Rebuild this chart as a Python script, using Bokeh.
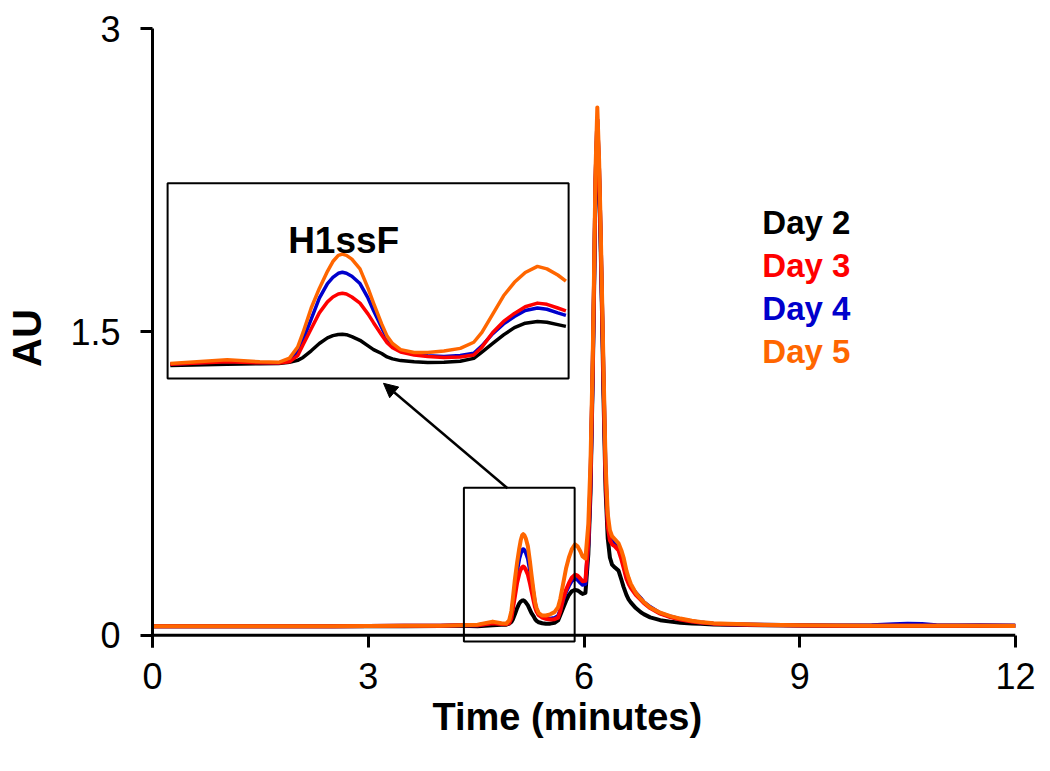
import numpy as np
from bokeh.plotting import figure
from bokeh.models import FixedTicker, Arrow, NormalHead, Range1d, Span, Title
from bokeh.embed import file_html
from bokeh.resources import INLINE
from bokeh.core.properties import value

# ---------------- data ----------------
time_min = [0.0, 0.5, 1.0, 1.5, 2.0, 2.5, 3.0, 3.5, 4.0, 4.3,
            4.52, 4.73, 4.85, 4.92, 4.96, 4.99, 5.01, 5.04, 5.07, 5.10,
            5.12, 5.14, 5.155, 5.17, 5.19, 5.22, 5.25, 5.27, 5.30, 5.32,
            5.34, 5.37, 5.42, 5.47, 5.53, 5.59, 5.64, 5.67, 5.71, 5.75,
            5.79, 5.83, 5.875, 5.91, 5.95, 5.98, 6.02, 6.06, 6.09, 6.12,
            6.14, 6.16, 6.185, 6.21, 6.23, 6.25, 6.27, 6.30, 6.33, 6.36,
            6.39, 6.43, 6.48, 6.52, 6.55, 6.59, 6.62, 6.65, 6.72, 6.79,
            6.83, 6.92, 7.06, 7.2, 7.34, 7.5, 7.62, 7.8, 8.0, 8.5,
            9.0, 9.5, 10.0, 10.3, 10.5, 10.7, 10.9, 11.2, 11.5, 12.0]

day2 = [0.045, 0.045, 0.045, 0.045, 0.045, 0.045, 0.045, 0.045, 0.046, 0.047,
        0.045, 0.050, 0.052, 0.053, 0.058, 0.066, 0.078, 0.105, 0.135, 0.158,
        0.167, 0.172, 0.173, 0.171, 0.163, 0.148, 0.125, 0.110, 0.094, 0.080,
        0.072, 0.065, 0.060, 0.057, 0.058, 0.062, 0.074, 0.100, 0.135, 0.170,
        0.200, 0.218, 0.225, 0.222, 0.212, 0.205, 0.210, 0.400, 0.700, 1.250,
        1.700, 2.200, 2.500, 2.250, 1.950, 1.600, 1.200, 0.720, 0.480, 0.385,
        0.350, 0.335, 0.320, 0.275, 0.240, 0.200, 0.178, 0.163, 0.135, 0.114,
        0.105, 0.089, 0.075, 0.068, 0.062, 0.059, 0.057, 0.054, 0.052, 0.050,
        0.049, 0.048, 0.048, 0.048, 0.048, 0.048, 0.047, 0.047, 0.047, 0.047]

day3 = [0.045, 0.045, 0.045, 0.045, 0.045, 0.045, 0.046, 0.047, 0.048, 0.050,
        0.050, 0.060, 0.056, 0.055, 0.060, 0.085, 0.130, 0.195, 0.260, 0.305,
        0.325, 0.337, 0.340, 0.337, 0.325, 0.300, 0.255, 0.220, 0.170, 0.138,
        0.118, 0.100, 0.088, 0.082, 0.078, 0.080, 0.088, 0.120, 0.180, 0.225,
        0.258, 0.285, 0.300, 0.295, 0.280, 0.268, 0.270, 0.460, 0.760, 1.300,
        1.750, 2.250, 2.550, 2.300, 2.000, 1.650, 1.280, 0.780, 0.540, 0.470,
        0.450, 0.440, 0.420, 0.375, 0.335, 0.280, 0.255, 0.235, 0.200, 0.175,
        0.160, 0.135, 0.107, 0.090, 0.078, 0.069, 0.063, 0.058, 0.055, 0.051,
        0.049, 0.048, 0.048, 0.048, 0.048, 0.048, 0.047, 0.047, 0.047, 0.047]

day4 = [0.045, 0.045, 0.045, 0.045, 0.045, 0.045, 0.046, 0.047, 0.048, 0.050,
        0.050, 0.062, 0.057, 0.056, 0.064, 0.100, 0.150, 0.235, 0.320, 0.380,
        0.405, 0.422, 0.426, 0.422, 0.410, 0.380, 0.320, 0.270, 0.200, 0.155,
        0.128, 0.105, 0.092, 0.085, 0.082, 0.086, 0.095, 0.125, 0.175, 0.215,
        0.245, 0.270, 0.280, 0.275, 0.260, 0.250, 0.255, 0.450, 0.750, 1.300,
        1.750, 2.250, 2.550, 2.300, 2.000, 1.650, 1.300, 0.800, 0.560, 0.490,
        0.470, 0.455, 0.435, 0.390, 0.350, 0.290, 0.265, 0.245, 0.210, 0.183,
        0.165, 0.140, 0.110, 0.093, 0.080, 0.070, 0.064, 0.058, 0.055, 0.052,
        0.050, 0.049, 0.050, 0.055, 0.058, 0.056, 0.050, 0.049, 0.050, 0.048]

day5 = [0.045, 0.045, 0.045, 0.045, 0.045, 0.045, 0.046, 0.047, 0.048, 0.050,
        0.053, 0.068, 0.060, 0.058, 0.075, 0.120, 0.180, 0.280, 0.360, 0.430,
        0.470, 0.495, 0.500, 0.495, 0.480, 0.440, 0.360, 0.300, 0.215, 0.165,
        0.135, 0.110, 0.098, 0.098, 0.104, 0.115, 0.140, 0.180, 0.255, 0.330,
        0.385, 0.425, 0.450, 0.440, 0.415, 0.390, 0.380, 0.550, 0.850, 1.350,
        1.800, 2.300, 2.610, 2.350, 2.050, 1.700, 1.350, 0.850, 0.600, 0.520,
        0.490, 0.475, 0.455, 0.420, 0.385, 0.320, 0.285, 0.255, 0.210, 0.180,
        0.165, 0.138, 0.112, 0.095, 0.083, 0.072, 0.066, 0.060, 0.057, 0.053,
        0.050, 0.049, 0.048, 0.048, 0.048, 0.048, 0.047, 0.047, 0.047, 0.046]

series_labels = ["Day 2", "Day 3", "Day 4", "Day 5"]
series_colors = ["#000000", "#ff0000", "#0000cc", "#ff6600"]
x_ticks = [0, 3, 6, 9, 12]
y_ticks = [0, 1.5, 3]
y_tick_labels = {0: "0", 1.5: "1.5", 3: "3"}
x_title = "Time (minutes)"
inset_title = "H1ssF"

# ---------------- figure ----------------
FONT = "Liberation Sans"
Y0 = -0.06  # frame bottom lies a tick-length below the zero line
p = figure(width=1040, height=757, x_range=Range1d(0, 12), y_range=Range1d(Y0, 3.0),
           output_backend="svg", toolbar_location=None,
           min_border_left=152, min_border_right=25, min_border_top=28, min_border_bottom=110)
p.outline_line_color = None
p.xgrid.visible = False
p.ygrid.visible = False
p.background_fill_color = "white"
p.border_fill_color = "white"

for ax in (p.xaxis[0], p.yaxis[0]):
    ax.axis_line_width = 3
    ax.axis_line_color = "black"
    ax.major_tick_line_width = 3
    ax.major_tick_line_color = "black"
    ax.major_tick_in = 0
    ax.major_tick_out = 12
    ax.minor_tick_line_color = None
    ax.major_label_text_font = FONT
    ax.major_label_text_font_size = "36px"
    ax.major_label_text_color = "black"
    ax.axis_label_text_font = FONT
    ax.axis_label_text_font_style = "bold"
    ax.axis_label_text_font_size = "38px"
    ax.axis_label_text_color = "black"

# x axis sits at the frame bottom; its ticks point up to the zero line,
# and the zero line itself is drawn as a span
xa = p.xaxis[0]
xa.ticker = FixedTicker(ticks=x_ticks)
xa.axis_line_color = None
xa.major_tick_in = 12
xa.major_tick_out = 0
xa.major_label_standoff = 15
p.add_layout(Span(location=0, dimension="width", line_color="black", line_width=3))
# x-axis title, placed slightly left of the frame centre as in the original
p.add_layout(Title(text=x_title, align="left", offset=280, standoff=4,
                   text_font=FONT, text_font_style="bold", text_font_size="38px",
                   text_color="black"), "below")

ya = p.yaxis[0]
ya.ticker = FixedTicker(ticks=y_ticks)
ya.major_label_overrides = y_tick_labels
ya.major_label_standoff = 20
ya.axis_label = "AU"
ya.axis_label_text_font_size = "40px"
ya.axis_label_standoff = 18

series = [day2, day3, day4, day5]
order = [0, 2, 1, 3]
t = np.array(time_min)

# main traces
for i in order:
    p.line(t, np.array(series[i]), line_color=series_colors[i], line_width=4,
           line_join="round")

# zoom box around the H1ssF peak on the main trace
win_t0, win_t1, win_v0, win_v1 = 4.51, 5.99, -0.008, 0.79
p.quad(left=[4.33], right=[5.87], bottom=[-0.03], top=[0.73],
       fill_color=None, line_color="black", line_width=2)

# inset
bx0, bx1, by0, by1 = 0.21, 5.786, 1.27, 2.235
p.quad(left=[bx0], right=[bx1], bottom=[by0], top=[by1],
       fill_color="white", line_color="black", line_width=2)
mask = (t >= win_t0) & (t <= win_t1)
sx = (bx1 - bx0) / (win_t1 - win_t0)
sy = (by1 - by0) / (win_v1 - win_v0)
for i in order:
    v = np.array(series[i])
    p.line(bx0 + (t[mask] - win_t0) * sx, by0 + (v[mask] - win_v0) * sy,
           line_color=series_colors[i], line_width=3.5, line_join="round")

p.text(x=[(bx0 + bx1) / 2 - 0.34], y=[1.953], text=[inset_title], text_align="center",
       text_baseline="middle", text_font=value(FONT), text_font_style="bold",
       text_font_size="37px", text_color="black")

p.add_layout(Arrow(end=NormalHead(size=14, fill_color="black", line_color="black"),
                   x_start=4.936, y_start=0.727, x_end=3.212, y_end=1.246,
                   line_width=2.5, line_color="black"))

# legend as coloured text
ly = [2.041 - 0.2125 * k for k in range(len(series_labels))]
p.text(x=[8.48] * len(series_labels), y=ly, text=series_labels, text_color=series_colors,
       text_baseline="middle", text_align="left", text_font=value(FONT),
       text_font_style="bold", text_font_size="33px")

open("out.html", "w").write(file_html(p, INLINE))
